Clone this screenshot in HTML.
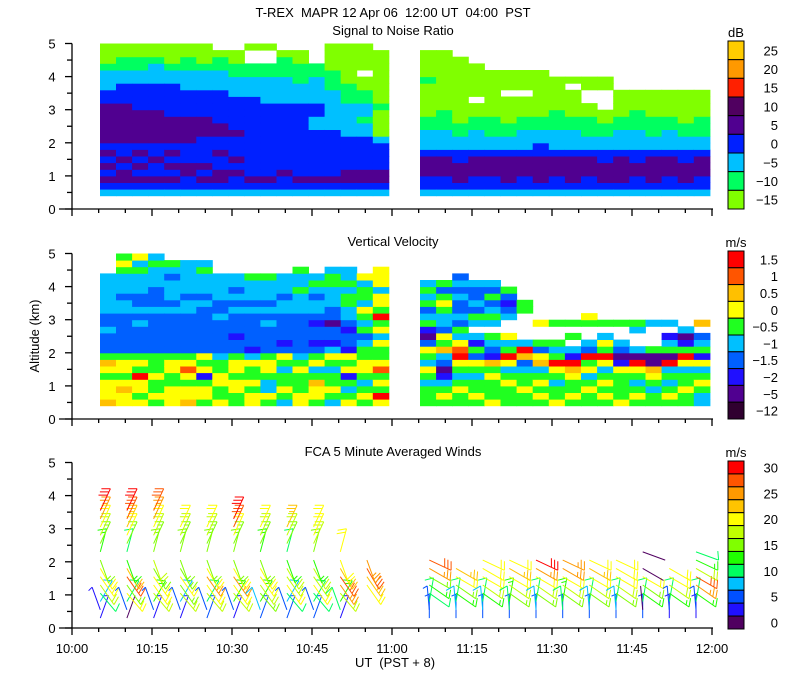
<!DOCTYPE html>
<html><head><meta charset="utf-8"><style>
html,body{margin:0;padding:0;background:#fff}
svg{display:block}
text{font-family:"Liberation Sans",sans-serif;font-size:13px;fill:#000;white-space:pre}
</style></head><body>
<svg id="chart" width="800" height="700" viewBox="0 0 800 700" xmlns="http://www.w3.org/2000/svg">
<text x="393" y="17" text-anchor="middle" xml:space="preserve">T-REX  MAPR 12 Apr 06  12:00 UT  04:00  PST</text>
<text x="393" y="35" text-anchor="middle">Signal to Noise Ratio</text>
<text x="393" y="246" text-anchor="middle">Vertical Velocity</text>
<text x="393" y="456" text-anchor="middle">FCA 5 Minute Averaged Winds</text>
<text x="0" y="0" text-anchor="middle" font-size="12" transform="translate(39,336) rotate(-90)">Altitude (km)</text>
<text x="395" y="667" text-anchor="middle" xml:space="preserve">UT  (PST + 8)</text>
<text x="736" y="37" text-anchor="middle">dB</text>
<text x="736" y="247" text-anchor="middle">m/s</text>
<text x="736" y="457" text-anchor="middle">m/s</text>
<g id="layers"></g>
</svg>
<script>
// ---- shared axis data ----
const xTickLabels = ["10:00","10:15","10:30","10:45","11:00","11:15","11:30","11:45","12:00"];
const yTickLabels = ["0","1","2","3","4","5"];
const altRows = [0.4,0.6,0.8,1.0,1.2,1.4,1.6,1.8,2.0,2.2,2.4,2.6,2.8,3.0,3.2,3.4,3.6,3.8,4.0,4.2,4.4,4.6,4.8];
const segStarts = [5.25, 65.25];   // minutes after 10:00
const segEnds = [59.4, 119.6];

// ---- SNR data (level codes per column, bottom -> top) ----
const snrLabels = ["25","20","15","10","5","0","-5","-10","-15"];
const snrColors = {Y:"#ffcc00",O:"#ff9900",R:"#ff2000",D:"#500060",P:"#500090",B:"#0020ff",C:"#00c0ff",G:"#00ff60",L:"#80ff00"};
const snrBarKeys = ["Y","O","R","D","P","B","C","G","L"];
const snrSeg1 = ["CBPBPBPBPPPPPPBBCCCGLLL","CBPPBPBBPPPPPPBBBCCGGLL","CBPBPBPBPPPPPBBBBCCGGLL","CBPBBPBBPPPPPBBBBCCCGLL","CBPBPBPBPPPPBBBBBCCGLLL","CBBPPBBBPPPPBBBBCCCGGLL","CBPBPBBBBPPPBBBBCCCGLLL","CBPPBBPBBPPBBBBBCCCGGL.","CBBPBPBBBPBBBBBCCCGGLL.","CBPBBBBBBBBBBBBCCCGG..L","CBPBBBBBBBBBBBCCCCGG..L","CBBPBBBBBBBBBBCCCCGGGL.","CBPBBBBBBBBBBBCCCGGGLL.","CBPBBBBBBBCCBBCCCCGG...","CBPBBBBBBBCCCCCCGGGLLLL","CBPPBBBBBCCCCCGGGLLLLLL","CBPPBBBBBCCGCCGGLL.LLLL","CBPPBBBBCLLLLGLLLLLLLL."];
const snrSeg2 = ["CBBPPPBCCCGGLLLLLGLLLL.","CBBPPPBCCCGGGLLLLLLLLL.","CBPPPBBCCGGLLLLLLLLLL..","CBBPPPBCCCGGLL.LLLLL...","CBBPPPBCCGGGLLLLLLL....","CBPPPPBCCGGLLLL.LLL....","CBBPPPBCCCGGLLL.LLL....","CBPPPPBBCCGGLLLLLLL....","CBBPPPBCCCGGGLLLLL.....","CBPPPPBCCCGGLLLL.L.....","CBBPPPBCCGGGLL..LL.....","CBPPPBBCCGGLL...LL.....","CBPPPPBCCCGGLLLL.......","CBBPPBBCCCGGGLLL.......","CBPPPPBCCGGGLLLL.......","CBBPPPBCCCGGLLLL.......","CBPPPBBCCGGLLLLL.......","CBBPPPBCCGGGLLLL......."];

// ---- Vertical velocity data ----
const velLabels = ["1.5","1","0.5","0","-0.5","-1","-1.5","-2","-5","-12"];
const velColors = {r:"#ff0000",o:"#ff5500",a:"#ffc000",y:"#ffff00",g:"#20ff20",c:"#00c0ff",b:"#0060ff",n:"#2010ff",p:"#500090",k:"#300030"};
const velBarKeys = ["r","o","a","y","g","c","b","n","p","k"];
const velSeg1 = ["ayyygyag"+"bbbcbbcccccc...","yyaygyyg"+"bbbbbbccbcccgyg","ygyyrgyg"+"bbbbcbcbbcccgcy","gyggyggg"+"bbbbbbcbbbcccgc","yyyggyyg"+"bbbbbbcbcccbcg.","ayygyoyg"+"bbbbbbccbccccc.","gyygnygy"+"bbbbbbbcbcccgc.","yggyyggc"+"bbbbbcbbcccc...","ggyygyyg"+"bbnbbbcbcbcc...","yygyggyc"+"nbbbbbcbcccg...","gyccgyyg"+"bbbbcbcbcccg...","cgyggcgy"+"bnbbbbccbccc...","yygggygc"+"bbbbbbcccgccg..","gyyagcyg"+"bnbbnbccbcgc...","cgyggcgy"+"cnbbpbbcccggc..","ygcgnygy"+"nbbnbccggcgcc..","gygcgyyg"+"gcbgcgycggcy...","yrgygoyg"+"gycygrgyycyyy.."];
const velSeg2 = ["gggcgycgybpngcbgcgc","gygcnpbcagybccgygbg","ggygcgyroycgbcbbcbcb","gyggcgybgnc.cgbcbbc","ygggyganbcg.cgcbgbc","gggygcyrgcy..cbnbg","ggyggcbarc....gg","gygygcaybg..y","yggcgyrgcg..g","gyggyarnc.g.g","ggygcygrbc..gy","gygygcyrgyc.g","yggggynpbc..g","gygcgyrpc..cg","ggcgyappg...c","gygcgcrpgcn.c","ggyggcyrgnpc","ccgygcyngcb.a"];

// ---- Winds data ----
const windLabels = ["30","25","20","15","10","5","0"];
const windBinColors = ["#500060","#2010ff","#0050ff","#00c0ff","#00ff60","#20ff00","#80ff00","#c0ff00","#ffff00","#ffc400","#ff9900","#ff5500","#ff0000"];
const windAlts = [0.3,0.55,0.8,1.05,1.3,1.55,1.8,2.05,2.3,2.55,2.8,3.05,3.3,3.55];
const windTimes1 = [5.3,10.3,15.3,20.3,25.3,30.3,35.3,40.3,45.3,50.3,55.3];
const windTimes2 = [67,72,77,82,87,92,97,102,107,112,117];
const windDir1 = [20,-20,30,140,145,145,150,160,15,25,25,25,25,25];
const windDir2 = [0,-5,10,125,125,120,120,115,110,110,110,110,110,110];
const windSpd1 = [
 [3,4,8,12,18,20,22,16,14,16,18,22,27,30],
 [2,6,10,20,17,28,24,14,10,16,20,24,28,30],
 [3,6,14,18,20,22,17,18,16,17,19,22,26,29],
 [4,6,9,18,17,20,16,15,16,17,19,21,0,0],
 [5,7,12,18,22,25,20,16,15,17,19,22,0,0],
 [4,5,13,18,22,26,20,17,15,17,20,28,30,0],
 [5,8,14,16,18,22,20,17,14,16,19,21,0,0],
 [6,6,9,12,20,18,18,14,10,15,18,23,0,0],
 [7,6,10,12,20,19,19,13,15,18,20,22,0,0],
 [4,10,14,18,25,28,24,22,22,0,0,0,0,0],
 [0,0,0,0,20,24,28,26,0,0,0,0,0,0]];
const windSpd2 = [
 [5,7,10,12,14,16,26,28,0,0,0,0,0,0],
 [6,8,12,14,16,20,24,0,0,0,0,0,0,0],
 [7,9,12,14,18,20,22,22,0,0,0,0,0,0],
 [6,10,13,15,18,20,24,22,0,0,0,0,0,0],
 [6,9,12,16,18,21,25,30,0,0,0,0,0,0],
 [7,10,13,16,19,22,25,26,0,0,0,0,0,0],
 [6,9,12,15,18,21,24,22,0,0,0,0,0,0],
 [7,9,12,16,19,21,20,21,0,0,0,0,0,0],
 [5,1,10,14,16,20,1,0,1,0,0,0,0,0],
 [4,7,10,14,18,20,22,0,0,0,0,0,0,0],
 [4,6,10,14,26,28,18,14,12,0,0,0,0,0]];

// ---- axis functions ----
const NS="http://www.w3.org/2000/svg";
const layers=document.getElementById('layers');
function xScale(min){return 72+min*(640/120);}
const panelBase=[209,419,628];
function yScale(p,alt){return panelBase[p]-alt*33.1;}
function mk(tag,attrs,parent){const e=document.createElementNS(NS,tag);for(const k in attrs)e.setAttribute(k,attrs[k]);(parent||layers).appendChild(e);return e;}

// heatmaps
function drawHeat(p,segs,colors,name){
  const g=mk('g',{});
  
  
  segs.forEach((cols,s)=>{
    const w=(segEnds[s]-segStarts[s])/cols.length;
    cols.forEach((str,i)=>{
      const x0=xScale(segStarts[s]+i*w),x1=xScale(segStarts[s]+(i+1)*w);
      for(let r=0;r<altRows.length;r++){
        const ch=str[r];
        if(!ch||ch==='.')continue;
        const y1=yScale(p,altRows[r]),y0=yScale(p,altRows[r]+0.2);
        const c=mk('rect',{x:x0.toFixed(1),y:y0.toFixed(1),width:(x1-x0+0.5).toFixed(1),height:(y1-y0+0.5).toFixed(1),fill:colors[ch]},g);
        
        
      }
    });
  });
}
drawHeat(0,[snrSeg1,snrSeg2],snrColors,'snr-heatmap');
drawHeat(1,[velSeg1,velSeg2],velColors,'velocity-heatmap');

// wind barbs
function drawBarbs(times,spds,dirs,name){
  const g=mk('g',{'stroke-width':1,fill:'none'});
  
  
  times.forEach((t,i)=>{
    spds[i].forEach((sp,j)=>{
      if(!sp)return;
      const bin=Math.max(0,Math.min(12,Math.floor(sp/2.5)));
      const col=windBinColors[bin];
      const x=xScale(t),y=yScale(2,windAlts[j]);
      const a=dirs[j]*Math.PI/180,L=24;
      const ex=x+L*Math.sin(a),ey=y-L*Math.cos(a);
      let d=`M${x.toFixed(1)},${y.toFixed(1)}L${ex.toFixed(1)},${ey.toFixed(1)}`;
      const fa=a-115*Math.PI/180;
      let n=Math.round(sp/5),pos=0;
      while(n>0){
        const bx=ex-pos*Math.sin(a),by=ey+pos*Math.cos(a);
        const fl=n>=2?9:5;
        d+=`M${bx.toFixed(1)},${by.toFixed(1)}l${(fl*Math.sin(fa)).toFixed(1)},${(-fl*Math.cos(fa)).toFixed(1)}`;
        n-=2;pos+=3.5;
      }
      const b=mk('path',{d:d,stroke:col},g);
      
      
    });
  });
}
drawBarbs(windTimes1,windSpd1,windDir1,'wind-barbs-seg1');
drawBarbs(windTimes2,windSpd2,windDir2,'wind-barbs-seg2');

// axes
for(let p=0;p<3;p++){
  const ax=mk('g',{stroke:'#000','stroke-width':1.3});
  
  
  mk('line',{x1:72,y1:yScale(p,5),x2:72,y2:panelBase[p]},ax);
  mk('line',{x1:59,y1:panelBase[p],x2:713,y2:panelBase[p]},ax);
  for(let k=0;k<=10;k++){
    const y=yScale(p,k*0.5);
    mk('line',{x1:k%2?67:65,y1:y,x2:72,y2:y},ax);
  }
  yTickLabels.forEach((l,k)=>{
    const t=mk('text',{x:52,y:yScale(p,+l)+5,'text-anchor':'middle',stroke:'none'});
    t.textContent=l;
    
    
  });
  for(let m=0;m<=120;m+=5){
    const x=xScale(m);
    mk('line',{x1:x,y1:panelBase[p],x2:x,y2:panelBase[p]+(m%15?4:7)},ax);
  }
}
xTickLabels.forEach((l,k)=>{
  const t=mk('text',{x:xScale(k*15),y:653,'text-anchor':'middle'});
  t.textContent=l;
  
  
});

// colorbars
function colorbar(top,bottom,cols,labels,labelIdx,name){
  const g=mk('g',{});
  
  
  const h=(bottom-top)/cols.length;
  cols.forEach((c,i)=>{
    const r=mk('rect',{x:728,y:top+i*h,width:16,height:h,fill:c,stroke:'#000','stroke-width':1},g);
    
    
  });
  labels.forEach((l,i)=>{
    const t=mk('text',{x:778,y:top+(labelIdx[i]+0.5)*h+5,'text-anchor':'end'},g);
    t.textContent=l.replace('-','\u2212');
    
    
  });
}
colorbar(41,209,snrBarKeys.map(k=>snrColors[k]),snrLabels,snrLabels.map((_,i)=>i),'snr-colorbar');
colorbar(251,419,velBarKeys.map(k=>velColors[k]),velLabels,velLabels.map((_,i)=>i),'velocity-colorbar');
colorbar(461,629,windBinColors.slice().reverse(),windLabels,windLabels.map((_,i)=>i*2),'winds-colorbar');
</script>
</body></html>
